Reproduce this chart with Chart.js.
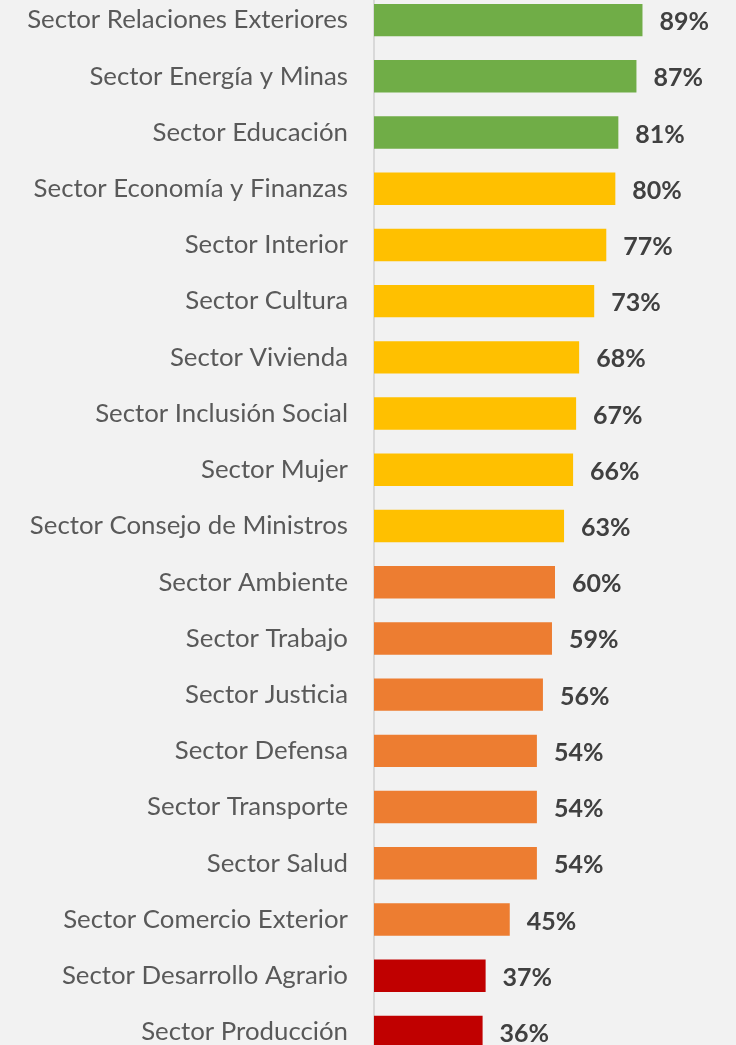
<!DOCTYPE html>
<html>
<head>
<meta charset="utf-8">
<script src="https://cdn.jsdelivr.net/npm/chart.js@4.4.1/dist/chart.umd.min.js"></script>
<style>
  html, body { margin: 0; padding: 0; background: #f2f2f2; overflow: hidden; }
  #wrap { position: absolute; left: 0; top: -8px; width: 736px; height: 1068px; }
</style>
</head>
<body>
<div id="wrap"><canvas id="c"></canvas></div>
<script>
const categories = [
  "Sector Relaciones Exteriores",
  "Sector Energía y Minas",
  "Sector Educación",
  "Sector Economía y Finanzas",
  "Sector Interior",
  "Sector Cultura",
  "Sector Vivienda",
  "Sector Inclusión Social",
  "Sector Mujer",
  "Sector Consejo de Ministros",
  "Sector Ambiente",
  "Sector Trabajo",
  "Sector Justicia",
  "Sector Defensa",
  "Sector Transporte",
  "Sector Salud",
  "Sector Comercio Exterior",
  "Sector Desarrollo Agrario",
  "Sector Producción"
];
const values = [89, 87, 81, 80, 77, 73, 68, 67, 66, 63, 60, 59, 56, 54, 54, 54, 45, 37, 36];
const barColors = [
  "#70AD47", "#70AD47", "#70AD47",
  "#FFC000", "#FFC000", "#FFC000", "#FFC000", "#FFC000", "#FFC000", "#FFC000",
  "#ED7D31", "#ED7D31", "#ED7D31", "#ED7D31", "#ED7D31", "#ED7D31", "#ED7D31",
  "#C00000", "#C00000"
];

const valueLabels = {
  id: 'valueLabels',
  afterDatasetsDraw(chart) {
    const ctx = chart.ctx;
    const meta = chart.getDatasetMeta(0);
    ctx.save();
    ctx.font = "bold 25px Lato";
    ctx.fillStyle = "#404040";
    ctx.textAlign = "left";
    ctx.textBaseline = "middle";
    meta.data.forEach((bar, i) => {
      ctx.fillText(values[i] + "%", bar.x + 17, bar.y + 2);
    });
    ctx.restore();
  }
};

new Chart(document.getElementById('c'), {
  type: 'bar',
  data: {
    labels: categories,
    datasets: [{
      data: values,
      backgroundColor: barColors,
      borderWidth: 0,
      categoryPercentage: 1,
      barPercentage: 0.577
    }]
  },
  options: {
    indexAxis: 'y',
    responsive: true,
    maintainAspectRatio: false,
    animation: false,
    layout: { padding: 0 },
    plugins: { legend: { display: false }, tooltip: { enabled: false } },
    scales: {
      x: {
        display: false,
        min: 0,
        max: 120
      },
      y: {
        afterFit(scale) { scale.width = 374; scale.paddingTop = 0; scale.paddingBottom = 0; },
        grid: { display: false, drawTicks: false },
        border: { display: true, color: "#d9d9d9", width: 2 },
        ticks: {
          padding: 26,
          color: "#595959",
          font: { family: "Lato", size: 25.8 }
        }
      }
    }
  },
  plugins: [valueLabels]
});
</script>
</body>
</html>
